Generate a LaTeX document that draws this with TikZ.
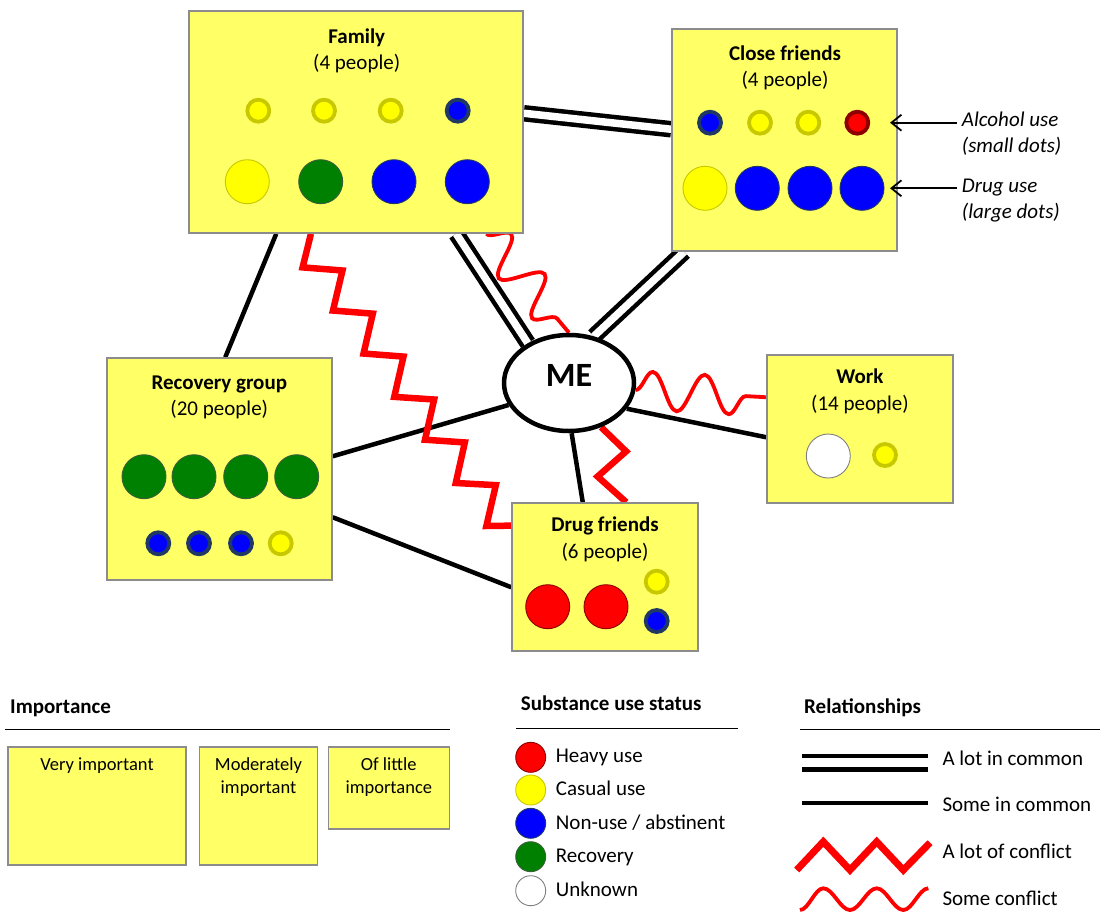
\documentclass[tikz,border=0pt]{standalone}
\usepackage{fontspec}
\setmainfont{Carlito}
\usetikzlibrary{shapes.geometric,decorations.pathmorphing,calc,arrows.meta,backgrounds}
\definecolor{boxfill}{HTML}{FFFF66}
\definecolor{boxline}{HTML}{8C8C8C}
\definecolor{cyel}{HTML}{FFFF00}
\definecolor{ryel}{HTML}{C8C800}
\definecolor{cblue}{HTML}{0000FF}
\definecolor{rblue}{HTML}{1F3864}
\definecolor{cred}{HTML}{FF0000}
\definecolor{rred}{HTML}{8C0000}
\definecolor{cgreen}{HTML}{008000}
\definecolor{rgreen}{HTML}{3A5F3A}
\newcommand\txtA{\fontsize{21}{25}\selectfont}
\newcommand\txtB{\fontsize{18.5}{23}\selectfont}
\newcommand\txtME{\fontsize{34}{40}\selectfont}
\tikzset{
  box/.style={rectangle, draw=boxline, line width=1.5pt, fill=boxfill, inner sep=0pt},
  ttl/.style={font=\txtA\bfseries, anchor=base, inner sep=0pt},
  sub/.style={font=\txtA, anchor=base, inner sep=0pt},
  note/.style={font=\txtA\itshape, anchor=base west, inner sep=0pt},
  leg/.style={font=\txtA, anchor=base west, inner sep=0pt},
  legh/.style={font=\txtA\bfseries, anchor=base west, inner sep=0pt},
  boxtxt/.style={font=\txtB, anchor=base, inner sep=0pt},
  sdot/.style={circle, inner sep=0pt, minimum size=22pt, line width=3.8pt},
  sy/.style={sdot, fill=cyel, draw=ryel},
  sb/.style={sdot, fill=cblue, draw=rblue},
  sr/.style={sdot, fill=cred, draw=rred},
  ldot/.style={circle, inner sep=0pt, minimum size=44pt, line width=0.9pt},
  ly/.style={ldot, fill=cyel, draw=ryel},
  lg/.style={ldot, fill=cgreen, draw=rgreen},
  lb/.style={ldot, fill=cblue, draw=rblue},
  lr/.style={ldot, fill=cred, draw=rred},
  lu/.style={ldot, fill=white, draw=gray},
  gdot/.style={circle, inner sep=0pt, minimum size=30pt, line width=0.9pt},
  lots/.style={draw=black, line width=4.5pt, double=white, double distance=7.5pt},
  some/.style={draw=black, line width=4.5pt},
  bigconf/.style={draw=cred, line width=6.5pt, miter limit=10},
  smallconf/.style={draw=cred, line width=3.8pt, decorate, decoration={snake, segment length=52pt, amplitude=19pt}},
  rule/.style={draw=black, line width=1pt},
  pointer/.style={draw=black, line width=1.8pt, -{Straight Barb[length=10pt, width=16pt, line width=1.8pt]}},
}
\begin{document}
\begin{tikzpicture}[x=1pt,y=-1pt]
\useasboundingbox (0,0) rectangle (1100,916);

% ---------- boxes ----------
\node[box, minimum width=334pt, minimum height=222pt] (family) at (356,122) {};
\node[box, minimum width=225pt, minimum height=222pt] (close) at (784.5,140) {};
\node[box, minimum width=225pt, minimum height=222pt] (recovery) at (219.5,469) {};
\node[box, minimum width=186pt, minimum height=148pt] (drug) at (605,577) {};
\node[box, minimum width=186pt, minimum height=148pt] (work) at (860,429) {};
\node[ellipse, draw=black, fill=white, line width=4.5pt, minimum width=130pt, minimum height=96pt, inner sep=0pt] (me) at (569,383) {};
\node[font=\txtME\bfseries, anchor=base, inner sep=0pt] (metxt) at (569,386.7) {ME};

% ---------- titles ----------
\node[ttl] (famT) at (356.7,43) {Family};
\node[sub] (famS) at (356.7,69) {(4 people)};
\node[ttl] (cloT) at (785,60) {Close friends};
\node[sub] (cloS) at (785,86) {(4 people)};
\node[ttl] (recT) at (219.3,389) {Recovery group};
\node[sub] (recS) at (219.3,415) {(20 people)};
\node[ttl] (druT) at (605,531.5) {Drug friends};
\node[sub] (druS) at (605,558) {(6 people)};
\node[ttl] (worT) at (860,383) {Work};
\node[sub] (worS) at (860,410) {(14 people)};

% ---------- dots ----------
\foreach \n/\x/\s in {1/258.3/sy,2/324/sy,3/390.7/sy,4/457.7/sb}
  \node[\s] (fs\n) at (\x,110.7) {};
\foreach \n/\x/\s in {1/247.3/ly,2/320.7/lg,3/394/lb,4/467.3/lb}
  \node[\s] (fl\n) at (\x,181.7) {};
\foreach \n/\x/\s in {1/710/sb,2/760/sy,3/808.3/sy,4/857.3/sr}
  \node[\s] (cs\n) at (\x,122.7) {};
\foreach \n/\x/\s in {1/705/ly,2/757.3/lb,3/810/lb,4/862/lb}
  \node[\s] (cl\n) at (\x,188.3) {};
\foreach \n/\x in {1/144,2/194,3/245.7,4/296.7}
  \node[lg] (rl\n) at (\x,476.7) {};
\foreach \n/\x/\s in {1/158.3/sb,2/199/sb,3/241/sb,4/280.7/sy}
  \node[\s] (rs\n) at (\x,543.3) {};
\node[lr] (dl1) at (547.7,606.7) {};
\node[lr] (dl2) at (606,606.7) {};
\node[sy] (ds1) at (656.7,581.7) {};
\node[sb] (ds2) at (656.7,621) {};
\node[lu] (wl1) at (828.3,456) {};
\node[sy] (ws1) at (885,455) {};

% ---------- notes ----------
\node[note] (alc1) at (961.7,126) {Alcohol use};
\node[note] (alc2) at (961.7,152) {(small dots)};
\node[note] (dru1) at (961.7,192) {Drug use};
\node[note] (dru2) at (961.7,218) {(large dots)};
\coordinate (alcTail) at (956.7,122.7);
\coordinate (alcTip) at (890,122.7);
\coordinate (druTail) at (956.7,188.3);
\coordinate (druTip) at (890,188.3);
\draw[pointer] (alcTail) -- (alcTip);
\draw[pointer] (druTail) -- (druTip);

% ---------- connectors ----------
\begin{pgfonlayer}{background}
\draw[lots] ($(family.north east)+(0,103)$) -- ($(close.north west)+(0,101)$);
\draw[lots] ($(family.south west)+(268,0)$) -- (me.136);
\draw[lots] ($(close.south west)+(13,0)$) -- (me.62);
\draw[some] ($(family.south west)+(88,0)$) -- ($(recovery.north west)+(119,0)$);
\draw[some] ($(recovery.north east)+(0,99)$) -- (me.200);
\draw[some] ($(recovery.north east)+(0,160)$) -- ($(drug.north west)+(0,85)$);
\draw[some] (me.-87) -- ($(drug.north west)+(71.5,0)$);
\draw[some] (me.-24) -- ($(work.north west)+(0,83)$);
\draw[smallconf] ($(family.south west)+(298,0)$) -- (me.90);
\draw[smallconf] (me.-6) -- ($(work.north west)+(0,43)$);
\coordinate (zms) at (me.-54);
\coordinate (zme) at ($(drug.north west)+(115,0)$);
\draw[bigconf] (zms) -- ($(zms)!0.39!(zme)!16pt!90:(zme)$)
  -- ($(zms)!0.577!(zme)!19pt!-90:(zme)$) -- (zme);
\coordinate (zfs) at ($(family.south west)+(122.7,0)$);
\coordinate (zfe) at ($(drug.north west)+(0,23.4)$);
\draw[bigconf] (zfs)
  -- ($(zfs)!0.065!(zfe)!25.9pt!-90:(zfe)$)
  -- ($(zfs)!0.136!(zfe)!5.2pt!90:(zfe)$)
  -- ($(zfs)!0.214!(zfe)!25.3pt!-90:(zfe)$)
  -- ($(zfs)!0.285!(zfe)!5.8pt!90:(zfe)$)
  -- ($(zfs)!0.363!(zfe)!24.4pt!-90:(zfe)$)
  -- ($(zfs)!0.434!(zfe)!6.8pt!90:(zfe)$)
  -- ($(zfs)!0.513!(zfe)!23.6pt!-90:(zfe)$)
  -- ($(zfs)!0.583!(zfe)!7.8pt!90:(zfe)$)
  -- ($(zfs)!0.662!(zfe)!22.5pt!-90:(zfe)$)
  -- ($(zfs)!0.732!(zfe)!8.8pt!90:(zfe)$)
  -- ($(zfs)!0.812!(zfe)!21.6pt!-90:(zfe)$)
  -- ($(zfs)!0.881!(zfe)!10.2pt!90:(zfe)$)
  -- ($(zfs)!0.961!(zfe)!20.7pt!-90:(zfe)$)
  -- (zfe);
\end{pgfonlayer}

% ---------- legend: importance ----------
\node[legh] (impH) at (10,713) {Importance};
\coordinate (impL1) at (5,729);
\coordinate (impL2) at (450,729);
\draw[rule] (impL1) -- (impL2);
\node[box, minimum width=178pt, minimum height=118pt] (imp1) at (97,806) {};
\node[box, minimum width=118pt, minimum height=118pt] (imp2) at (258.5,806) {};
\node[box, minimum width=121pt, minimum height=82pt] (imp3) at (388.8,788) {};
\node[boxtxt] (imp1t) at (97,770) {Very important};
\node[boxtxt] (imp2t) at (258.5,770) {Moderately};
\node[boxtxt] (imp2u) at (258.5,793) {important};
\node[boxtxt] (imp3t) at (388.8,770) {Of little};
\node[boxtxt] (imp3u) at (388.8,793) {importance};

% ---------- legend: substance ----------
\node[legh] (subH) at (520.7,710.7) {Substance use status};
\coordinate (subL1) at (516,728.3);
\coordinate (subL2) at (737.7,728.3);
\draw[rule] (subL1) -- (subL2);
\node[gdot, fill=cred, draw=rred] (g1) at (530.7,757.3) {};
\node[gdot, fill=cyel, draw=ryel] (g2) at (530.7,790) {};
\node[gdot, fill=cblue, draw=rblue] (g3) at (530.7,823.3) {};
\node[gdot, fill=cgreen, draw=rgreen] (g4) at (530.7,856.7) {};
\node[gdot, fill=white, draw=gray] (g5) at (530.7,890.7) {};
\node[leg] (g1t) at (555.7,762.3) {Heavy use};
\node[leg] (g2t) at (555.7,795) {Casual use};
\node[leg] (g3t) at (555.7,829) {Non-use / abstinent};
\node[leg] (g4t) at (555.7,862.7) {Recovery};
\node[leg] (g5t) at (555.7,896.7) {Unknown};

% ---------- legend: relationships ----------
\node[legh] (relH) at (804,713.3) {Relationships};
\coordinate (relL1) at (800,729);
\coordinate (relL2) at (1100,729);
\draw[rule] (relL1) -- (relL2);
\coordinate (r1a) at (801.7,762.7);
\coordinate (r1b) at (928.3,762.7);
\draw[lots, line width=4.3pt, double distance=9pt] (r1a) -- (r1b);
\coordinate (r2a) at (801.7,803.3);
\coordinate (r2b) at (928.3,803.3);
\draw[some, line width=4.3pt] (r2a) -- (r2b);
\draw[bigconf, line width=7pt] (796.7,870) -- (823.3,841.7) -- (850,870) -- (876.7,841.7) -- (903.3,870) -- (930,842.7);
\draw[draw=cred, line width=3.8pt] (800,910) cos (811.65,899.15) sin (823.3,888.3) cos (836.65,899.15) sin (850,910) cos (863.35,899.15) sin (876.7,888.3) cos (890,899.15) sin (903.3,910) cos (915.8,899.15) sin (928.3,888.3);
\node[leg] (r1t) at (942.3,765) {A lot in common};
\node[leg] (r2t) at (942.3,811.7) {Some in common};
\node[leg] (r3t) at (942.3,858.3) {A lot of conflict};
\node[leg] (r4t) at (942.3,905) {Some conflict};
\end{tikzpicture}
\end{document}
